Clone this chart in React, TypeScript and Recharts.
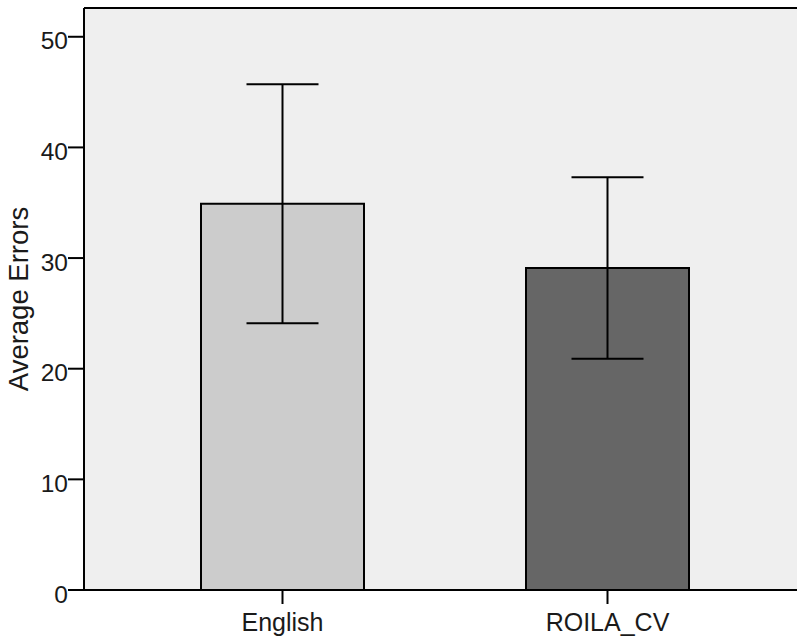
import React from 'react';
import { BarChart, Bar, XAxis, YAxis, ErrorBar, CartesianGrid, ReferenceLine, Cell } from 'recharts';

const categories = ['English', 'ROILA_CV'];
const meanErrors = [34.9, 29.1];
const ciHalfWidths = [10.8, 8.2];
const barColors = ['#cccccc', '#666666'];
const yTicks = [0, 10, 20, 30, 40, 50];
const yMax = 52.6;

const data = categories.map((name, i) => ({
  name,
  value: meanErrors[i],
  err: ciHalfWidths[i],
}));

const FONT = '"Liberation Sans", Arial, sans-serif';

const YLabel = (props: any) => {
  const vb = props.viewBox || {};
  const cy = (vb.y || 0) + (vb.height || 0) / 2;
  const cx = 28;
  return (
    <text
      x={cx}
      y={cy}
      transform={`rotate(-90 ${cx} ${cy})`}
      textAnchor="middle"
      fontSize={27.5}
      fontFamily={FONT}
      fill="#1a1a1a"
    >
      Average Errors
    </text>
  );
};

export default function App() {
  return (
    <div style={{ position: 'absolute', left: 0, top: 0, width: 797, height: 636, background: '#fff' }}>
      <BarChart
        width={797}
        height={636}
        data={data}
        margin={{ top: 8, right: 0, left: 0, bottom: 0 }}
        barCategoryGap={0}
      >
        <CartesianGrid horizontal={false} vertical={false} fill="#efefef" />
        <XAxis
          dataKey="name"
          height={46}
          padding={{ left: 36, right: 27 }}
          axisLine={{ stroke: '#000', strokeWidth: 2 }}
          tickLine={{ stroke: '#000', strokeWidth: 2 }}
          tickSize={14}
          tickMargin={9}
          tick={{ fontSize: 25, fontFamily: FONT, fill: '#1a1a1a' }}
        />
        <YAxis
          width={84}
          domain={[0, yMax]}
          ticks={yTicks}
          allowDataOverflow
          axisLine={{ stroke: '#000', strokeWidth: 2 }}
          tickLine={{ stroke: '#000', strokeWidth: 2 }}
          tickSize={16}
          tickMargin={0}
          tick={{ fontSize: 24.5, fontFamily: FONT, fill: '#1a1a1a', dy: 4 }}
          label={{ content: YLabel }}
        />
        <ReferenceLine y={yMax} stroke="#000" strokeWidth={2} />
        <Bar dataKey="value" barSize={163} stroke="#000" strokeWidth={2} isAnimationActive={false}>
          {data.map((d, i) => (
            <Cell key={d.name} fill={barColors[i]} />
          ))}
          <ErrorBar dataKey="err" width={36} stroke="#000" strokeWidth={2} isAnimationActive={false} />
        </Bar>
      </BarChart>
    </div>
  );
}
